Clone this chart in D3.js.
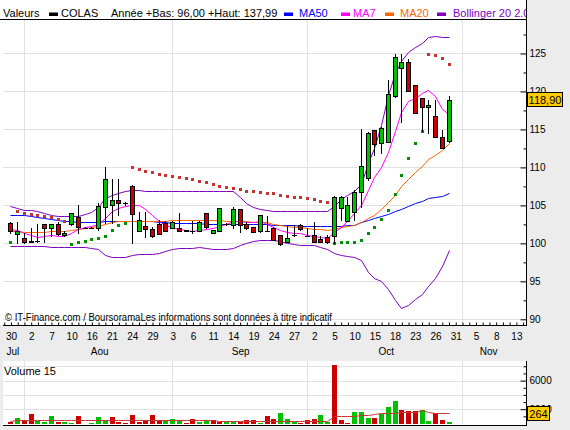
<!DOCTYPE html>
<html lang="fr">
<head>
<meta charset="UTF-8">
<title>COLAS</title>
<script src="https://d3js.org/d3.v7.min.js"></script>
<style>
  body { margin: 0; background: #ececec; }
  svg { display: block; font-family: "Liberation Sans", Arial, sans-serif; }
</style>
</head>
<body>
<svg id="chart" width="570" height="430"></svg>
<script>
// axis labels: every third session, plus month names
const dayLabels = ["30","2","7","10","16","21","24","29","3","6","11","14","19","24","27","2","5","10","15","18","23","26","31","5","8","13"];
const monthLabels = ["Jul","Aou","Sep","Oct","Nov"];
const monthPos = [0.2, 13.1, 34, 55.6, 70.8];
const monthStarts = [2, 24, 44, 67];
const priceTicks = [90, 95, 100, 105, 110, 115, 120, 125];
const priceMinor = [92.5, 97.5, 102.5, 107.5, 112.5, 117.5, 122.5, 127.5];
const volTicks = [2000, 6000];
const volMinor = [1000, 3000, 4000, 5000, 7000, 8000];
const volGrid = [2000, 4000, 6000, 8000];

// daily candles, 30 Jul -> 30 Oct
const open = [102.64,101.2,100.67,100.25,100.3,102.51,101.98,102.51,101.07,102.51,
  103.43,102.06,102.06,102.02,104.83,105.09,105.71,105.27,107.55,101.67,
  102.28,101.89,102.54,102.64,102.0,101.98,101.72,101.67,101.67,103.96,
  101.33,101.67,102.55,102.42,104.48,102.55,102.11,101.67,101.67,101.98,
  101.1,100.13,101.1,102.42,100.97,101.1,100.58,100.8,100.93,104.6,
  103.0,104.17,106.8,108.57,114.93,113.18,113.39,119.45,123.13,123.92,
  120.86,119.1,117.92,116.77,113.97,113.48];
const high = [102.86,102.78,101.33,102.07,102.51,102.51,102.51,102.86,101.6,104.04,
  105.05,102.2,102.2,105.27,110.1,108.48,108.48,105.49,107.7,104.17,
  104.17,102.2,103.08,102.94,102.94,103.96,101.72,102.94,102.94,104.06,
  101.8,104.61,102.7,104.79,104.48,102.85,102.2,103.74,103.6,102.2,
  101.1,102.42,102.42,102.55,101.98,102.8,100.97,101.1,106.2,106.3,
  106.06,107.0,115.02,114.6,114.93,115.3,121.5,124.94,124.94,124.3,
  120.86,119.1,118.88,118.88,114.93,119.4];
const low = [101.41,100.0,100.0,100.18,100.2,100.2,101.0,101.1,101.0,102.4,
  101.3,102.0,102.0,101.76,102.64,102.64,103.73,105.05,100.01,101.6,
  100.88,100.8,101.23,101.6,102.0,101.6,101.6,101.4,101.67,101.98,
  101.3,101.67,102.4,102.0,101.54,101.9,101.54,101.54,101.67,100.44,
  99.85,100.13,100.97,101.8,100.97,100.13,100.13,100.0,100.0,103.08,
  103.0,103.08,104.75,108.4,111.64,111.9,113.3,119.3,116.02,120.0,
  117.13,114.84,114.58,114.05,112.52,113.3];
const close = [101.67,101.67,100.14,100.2,100.25,101.98,102.51,101.19,101.41,103.96,
  102.11,102.06,102.06,104.92,108.48,105.71,105.27,105.27,103.83,103.08,
  101.85,101.01,101.23,101.67,102.78,101.67,101.67,101.67,102.78,102.2,
  101.72,104.61,102.55,104.48,102.42,102.06,101.54,103.74,101.67,100.44,
  99.9,100.71,101.1,101.85,100.97,100.13,100.13,100.13,106.16,106.06,
  105.05,106.8,110.19,114.49,113.05,115.15,119.67,124.58,123.92,120.06,
  117.13,117.92,118.22,114.05,112.52,118.9];

// indicators
const ma50 = [103.73,103.71,103.67,103.6,103.47,103.34,103.21,103.08,102.98,102.9,
  102.81,102.81,102.81,102.81,102.88,102.94,102.94,102.94,102.94,102.94,
  102.88,102.88,102.81,102.75,102.68,102.68,102.66,102.64,102.62,102.6,
  102.58,102.57,102.56,102.55,102.55,102.55,102.55,102.55,102.5,102.47,
  102.44,102.42,102.39,102.35,102.33,102.31,102.3,102.29,102.29,102.33,
  102.39,102.48,102.81,103.08,103.34,103.6,103.93,104.26,104.59,104.92,
  105.25,105.58,105.91,106.17,106.3,106.57];
const ma7 = [101.9,101.7,101.4,101.1,100.9,101.0,101.1,101.0,101.0,101.4,
  101.9,102.2,102.3,102.55,103.4,104.2,104.6,104.95,105.1,105.0,
  104.55,103.8,103.0,102.4,102.1,101.9,101.7,101.6,101.8,101.95,
  102.0,102.35,102.5,102.9,102.95,102.85,102.85,103.0,102.5,102.2,
  101.7,101.45,101.3,101.3,101.1,100.95,100.8,100.7,101.5,102.2,
  102.95,104.05,105.05,107.0,108.8,110.1,112.05,114.85,117.3,118.7,
  119.1,119.8,120.2,119.4,117.7,117.0];
const ma20 = [101.6,101.6,101.55,101.5,101.5,101.55,101.6,101.6,101.65,101.8,
  101.9,102.0,102.1,102.3,102.6,102.8,102.9,103.0,103.0,102.9,
  102.9,102.9,102.95,103.0,103.05,103.05,103.05,103.1,103.1,103.1,
  103.05,103.05,103.0,102.95,102.9,102.9,102.85,102.8,102.75,102.6,
  102.45,102.3,102.2,102.1,102.0,101.9,101.85,101.8,101.95,102.1,
  102.3,102.4,102.8,103.3,103.8,104.5,105.4,106.4,107.5,108.5,
  109.4,110.2,111.1,111.7,112.3,113.2];
const bollUp = [104.92,104.66,104.39,104.35,104.3,104.06,103.76,103.63,103.6,103.6,
  103.6,103.87,104.13,104.79,105.97,106.37,106.63,106.9,107.03,107.03,
  106.96,106.96,106.96,106.96,106.96,106.96,106.96,106.96,106.96,106.96,
  106.96,106.96,106.96,106.9,106.11,105.31,104.85,104.46,104.33,104.26,
  104.26,104.26,104.26,104.26,104.26,104.26,104.26,104.26,104.92,105.84,
  106.37,106.9,107.82,110.58,112.56,115.59,119.54,122.44,124.0,125.2,
  125.86,126.39,127.18,127.35,127.18,127.22];
const bollLow = [99.65,99.65,99.65,99.65,99.61,99.59,99.56,99.52,99.49,99.48,
  99.48,99.48,99.45,99.26,98.47,98.16,98.16,98.16,98.47,98.6,
  98.64,98.66,98.73,98.99,99.22,99.35,99.39,99.45,99.48,99.39,
  99.26,99.22,99.22,99.39,99.72,100.11,100.31,100.44,100.44,100.44,
  100.31,100.11,99.92,99.78,99.78,99.78,99.52,99.26,98.73,98.53,
  98.33,98.14,97.81,96.23,95.44,95.11,93.99,92.54,91.55,91.88,
  92.67,93.33,94.38,95.44,97.02,99.13];
const sar = [100.18,104.26,104.06,103.89,103.76,103.56,103.47,103.17,103.01,99.98,
  100.15,100.28,100.53,100.7,100.97,101.72,102.38,102.72,110.02,109.79,
  109.57,109.36,109.13,109.0,108.87,108.7,108.57,108.44,108.25,108.04,
  107.82,107.6,107.46,107.25,107.12,106.96,106.86,106.76,106.67,106.57,
  106.41,106.28,106.15,106.04,105.93,105.8,105.62,105.49,100.01,100.14,
  100.14,100.14,100.44,101.32,102.11,103.17,104.39,106.46,108.96,111.24,
  113.18,114.8,124.9,124.77,124.37,123.58];

// volume (shares) and its 15-day average
const volume = [250,810,490,1330,390,250,1050,210,210,70,
  1050,0,70,910,450,910,210,70,1190,210,
  450,1190,450,450,630,450,70,630,210,450,
  450,210,210,210,210,450,450,70,1050,630,
  1470,630,210,70,450,630,1190,210,8180,490,
  70,1560,1560,770,770,1330,2310,3150,1890,1700,
  1700,1890,350,1420,490,264];
const volDir = "dudduuudu" + "udduuudddd" + "dddduuuddu" + "udduudddudd" + "uuudddu" + "uddduuudu" + "uuddduudd" + "uud" + "du";
const volMa = [300,420,440,450,450,450,450,450,450,450,
  450,450,450,450,450,450,450,450,450,450,
  450,450,450,450,450,450,450,450,450,450,
  420,380,350,350,350,350,350,350,350,350,
  350,350,350,350,350,350,350,350,1000,1020,
  1050,1100,1190,1250,1300,1430,1430,1450,1650,1650,
  1650,1890,1600,1510,1510,1510];

const GREEN = "#00c000", RED = "#cc0000";
const svg = d3.select("#chart");

const x = d3.scaleLinear().domain([-1.11, 76.5]).range([3, 526]);
const y = d3.scaleLinear().domain([89.2, 129.5]).range([325.4, 19.3]);
const vy = d3.scaleLinear().domain([0, 8000]).range([423.5, 366.3]);
const px = i => Math.round(x(i));

// panels
svg.append("rect").attr("x", 0).attr("y", 0).attr("width", 526).attr("height", 325).attr("fill", "#fff");
svg.append("rect").attr("x", 3).attr("y", 361).attr("width", 523).attr("height", 64).attr("fill", "#fff");

// grid
const grid = svg.append("g").attr("stroke", "#e2e2e2").attr("stroke-width", 1);
priceTicks.forEach(v => {
  const yy = Math.round(y(v)) + 0.5;
  grid.append("line").attr("x1", 3).attr("x2", 526).attr("y1", yy).attr("y2", yy);
});
volGrid.forEach(v => {
  const yy = Math.round(vy(v)) + 0.5;
  grid.append("line").attr("x1", 3).attr("x2", 526).attr("y1", yy).attr("y2", yy);
});
monthStarts.forEach(i => {
  const xx = px(i) + 0.5;
  grid.append("line").attr("x1", xx).attr("x2", xx).attr("y1", 20).attr("y2", 325);
  grid.append("line").attr("x1", xx).attr("x2", xx).attr("y1", 361).attr("y2", 425);
});

// indicator lines
function drawLine(vals, color, scale) {
  svg.append("path")
    .datum(vals)
    .attr("fill", "none")
    .attr("stroke", color)
    .attr("stroke-width", 1)
    .attr("d", d3.line().x((d, i) => px(i) + 0.5).y(d => Math.round(scale(d)) + 0.5));
}
drawLine(bollUp, "#7f00bf", y);
drawLine(bollLow, "#7f00bf", y);
drawLine(ma50, "#0000ff", y);
drawLine(ma20, "#ff6600", y);
drawLine(ma7, "#ff00ff", y);

// parabolic SAR
svg.append("g").selectAll("rect")
  .data(sar)
  .join("rect")
  .attr("x", (d, i) => px(i) - 1)
  .attr("y", d => Math.round(y(d)) - 1)
  .attr("width", 3).attr("height", 3)
  .attr("fill", (d, i) => d > close[i] ? "#c83232" : "#009000");

// candles
const candles = svg.append("g");
close.forEach((c, i) => {
  const cx = px(i);
  const o = open[i];
  candles.append("line")
    .attr("x1", cx + 0.5).attr("x2", cx + 0.5)
    .attr("y1", Math.round(y(high[i]))).attr("y2", Math.round(y(low[i])) + 1)
    .attr("stroke", "#000");
  const yTop = Math.round(y(Math.max(o, c)));
  const yBot = Math.round(y(Math.min(o, c)));
  if (yBot - yTop < 1) {
    candles.append("line")
      .attr("x1", cx - 2).attr("x2", cx + 3)
      .attr("y1", yTop + 0.5).attr("y2", yTop + 0.5)
      .attr("stroke", "#000");
  } else {
    candles.append("rect")
      .attr("x", cx - 1.5).attr("y", yTop + 0.5)
      .attr("width", 4).attr("height", yBot - yTop)
      .attr("fill", c >= o ? GREEN : RED)
      .attr("stroke", "#000");
  }
});

// volume
svg.append("g").selectAll("rect")
  .data(volume)
  .join("rect")
  .attr("x", (d, i) => px(i) - 2)
  .attr("y", d => Math.round(vy(d)))
  .attr("width", 5)
  .attr("height", d => Math.round(vy(0)) - Math.round(vy(d)))
  .attr("fill", (d, i) => volDir[i] === "u" ? GREEN : RED);
drawLine(volMa, "#cc3333", vy);

// axes
function styleAxis(g) {
  g.select(".domain").remove();
  g.selectAll("text").attr("font-size", 10).attr("font-family", "Liberation Sans, Arial, sans-serif").attr("fill", "#000");
  g.selectAll("line").attr("stroke", "#000");
}
svg.append("g").attr("transform", "translate(526.5,0)")
  .call(d3.axisRight(y).tickValues(priceTicks).tickSizeInner(-6).tickSizeOuter(0).tickPadding(3).tickFormat(d3.format("d")))
  .call(styleAxis);
svg.append("g").attr("transform", "translate(526.5,0)")
  .call(d3.axisRight(y).tickValues(priceMinor).tickSizeInner(-3).tickSizeOuter(0).tickFormat(""))
  .call(styleAxis);
svg.append("g").attr("transform", "translate(526.5,0)")
  .call(d3.axisRight(vy).tickValues(volTicks).tickSizeInner(-6).tickSizeOuter(0).tickPadding(3).tickFormat(d3.format("d")))
  .call(styleAxis);
svg.append("g").attr("transform", "translate(526.5,0)")
  .call(d3.axisRight(vy).tickValues(volMinor).tickSizeInner(-3).tickSizeOuter(0).tickFormat(""))
  .call(styleAxis);

const dayIdx = dayLabels.map((d, k) => k * 3);
svg.append("g").attr("transform", "translate(0.5,325.5)")
  .call(d3.axisBottom(x).tickValues(d3.range(-1, 77)).tickSizeInner(-3).tickSizeOuter(0).tickFormat(""))
  .call(styleAxis);
svg.append("g").attr("transform", "translate(0.5,325.5)")
  .call(d3.axisBottom(x).tickValues(dayIdx).tickSize(0).tickPadding(7).tickFormat((d, k) => dayLabels[k]))
  .call(styleAxis);
svg.append("g").attr("transform", "translate(0.5,325.5)")
  .call(d3.axisBottom(x).tickValues(monthPos).tickSize(0).tickPadding(22).tickFormat((d, k) => monthLabels[k]))
  .call(styleAxis);

// frame lines
svg.append("line").attr("x1", 526.5).attr("x2", 526.5).attr("y1", 0).attr("y2", 326).attr("stroke", "#000");
svg.append("line").attr("x1", 3).attr("x2", 527).attr("y1", 325.5).attr("y2", 325.5).attr("stroke", "#000");
svg.append("line").attr("x1", 0).attr("x2", 527).attr("y1", 19.5).attr("y2", 19.5).attr("stroke", "#000");
svg.append("line").attr("x1", 526.5).attr("x2", 526.5).attr("y1", 361).attr("y2", 426).attr("stroke", "#000");
svg.append("line").attr("x1", 3).attr("x2", 527).attr("y1", 425.5).attr("y2", 425.5).attr("stroke", "#000");

// legend
svg.append("clipPath").attr("id", "legclip").append("rect").attr("x", 0).attr("y", 0).attr("width", 526).attr("height", 19);
const leg = svg.append("g").attr("clip-path", "url(#legclip)").attr("font-size", 11);
leg.append("text").attr("x", 3).attr("y", 17).text("Valeurs");
[[49, "#000", 61, "COLAS"], [284, "#0000ff", 299, "MA50"], [341, "#ff00ff", 353, "MA7"],
 [385, "#ff6600", 400, "MA20"], [437, "#7f00bf", 453, "Bollinger 20 2.0"]].forEach(([sx, col, tx, label]) => {
  leg.append("rect").attr("x", sx).attr("y", 12.5).attr("width", 9).attr("height", 3.5).attr("fill", col);
  leg.append("text").attr("x", tx).attr("y", 17).attr("fill", col).text(label);
});
leg.append("text").attr("x", 111).attr("y", 17).text("Année +Bas: 96,00 +Haut: 137,99");

svg.append("text").attr("x", 5).attr("y", 321).attr("font-size", 10)
  .attr("textLength", 327).attr("lengthAdjust", "spacingAndGlyphs")
  .text("© IT-Finance.com / BoursoramaLes informations sont données à titre indicatif");
svg.append("text").attr("x", 4).attr("y", 375).attr("font-size", 11).text("Volume 15");

// last value boxes (kept inside their panel)
function valueBox(yc, w, label) {
  const yy = Math.round(yc);
  svg.append("rect").attr("x", 527.5).attr("y", yy - 7.5).attr("width", w).attr("height", 14)
    .attr("fill", "#ffcc00").attr("stroke", "#000");
  svg.append("text").attr("x", 527.5 + w / 2).attr("y", yy + 4).attr("text-anchor", "middle")
    .attr("font-size", 11).text(label);
}
valueBox(y(close[close.length - 1]), 35, d3.format(".2f")(close[close.length - 1]).replace(".", ","));
valueBox(Math.min(vy(volume[volume.length - 1]), 413.5), 22, String(volume[volume.length - 1]));
</script>
</body>
</html>
